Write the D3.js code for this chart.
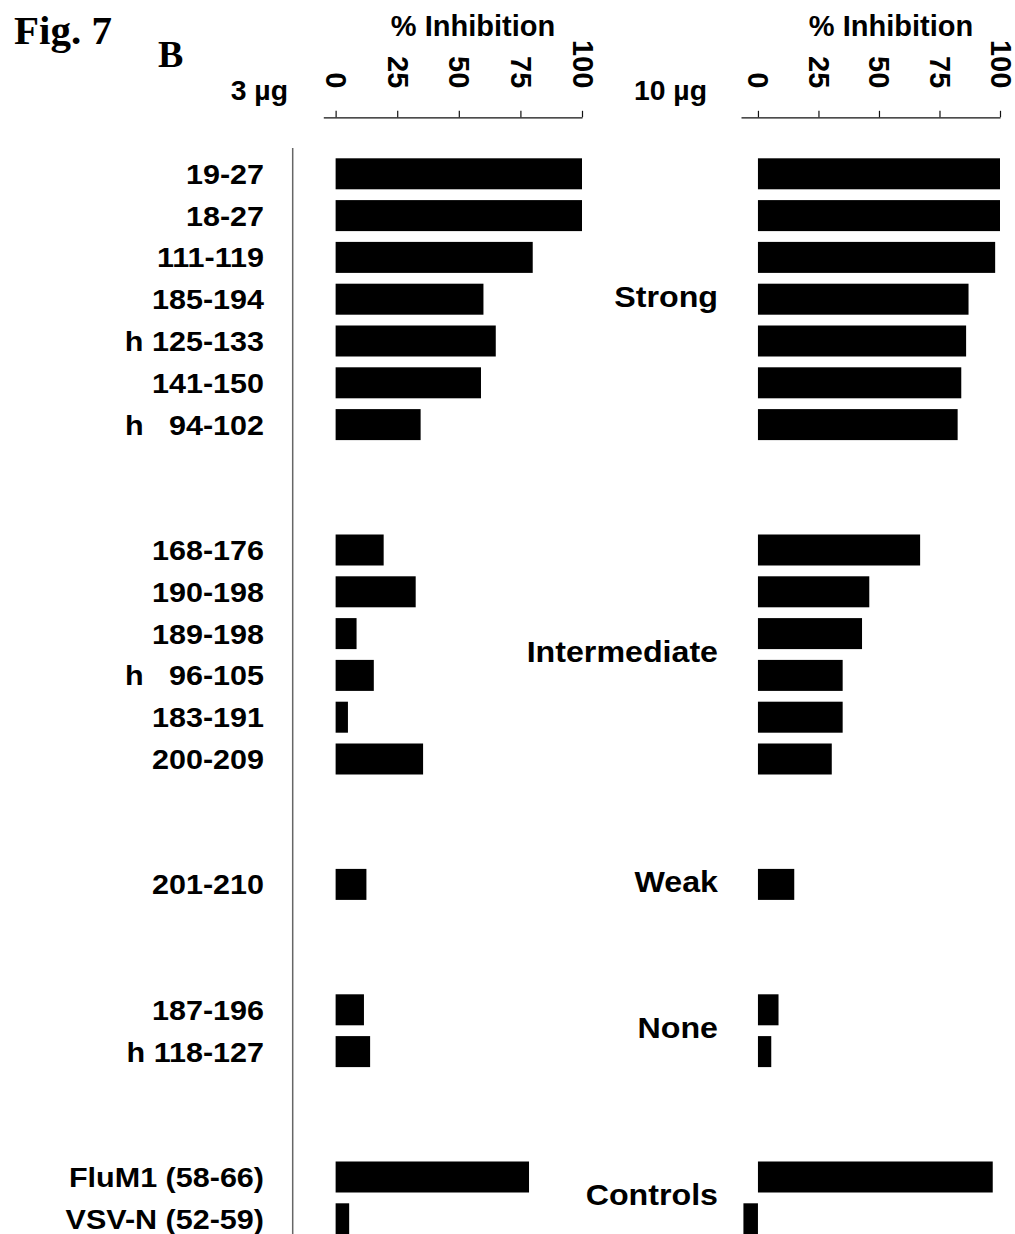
<!DOCTYPE html>
<html>
<head>
<meta charset="utf-8">
<script src="https://cdn.jsdelivr.net/npm/d3@7"></script>
<style>
  html, body { margin: 0; padding: 0; background: #fff; }
  svg { display: block; }
  text { font-family: "Liberation Sans", Arial, sans-serif; font-weight: bold; fill: #000; }
  .serif { font-family: "Liberation Serif", "Times New Roman", serif; }
</style>
</head>
<body>
<svg id="chart" width="1015" height="1234"></svg>
<script>
// Peptides (top to bottom), their response class, and % inhibition at each dose
const peptides = [
  "19-27", "18-27", "111-119", "185-194", "h 125-133", "141-150", "h   94-102",
  "168-176", "190-198", "189-198", "h   96-105", "183-191", "200-209",
  "201-210",
  "187-196", "h 118-127",
  "FluM1 (58-66)", "VSV-N (52-59)"
];
const peptideGroup = [
  "Strong", "Strong", "Strong", "Strong", "Strong", "Strong", "Strong",
  "Intermediate", "Intermediate", "Intermediate", "Intermediate", "Intermediate", "Intermediate",
  "Weak",
  "None", "None",
  "Controls", "Controls"
];
const groups = ["Strong", "Intermediate", "Weak", "None", "Controls"];
const inhibition3ug = [100, 100, 80, 60, 65, 59, 34.5, 19.5, 32.5, 8.5, 15.5, 5, 35.5, 12.5, 11.5, 14, 78.5, 5.5];
const inhibition10ug = [100, 100, 98, 87, 86, 84, 82.5, 67, 46, 43, 35, 35, 30.5, 15, 8.5, 5.5, 97, -6];
const tickValues = [0, 25, 50, 75, 100];
const doseLabels = ["3 µg", "10 µg"];

const svg = d3.select("#chart");

// Row slots: two empty slots separate consecutive classes
const slots = [];
groups.forEach((g, gi) => {
  if (gi > 0) { slots.push("gap" + gi + "a", "gap" + gi + "b"); }
  peptides.forEach((p, i) => { if (peptideGroup[i] === g) slots.push(p); });
});

const y = d3.scaleBand()
  .domain(slots)
  .range([158.3, 1234.3])
  .paddingInner(10.8 / 41.8)
  .paddingOuter(0);

const panels = [
  { values: inhibition3ug, dose: doseLabels[0],
    x: d3.scaleLinear().domain([-5, 100]).range([323.3, 582]),
    doseX: 288, titleX: 473 },
  { values: inhibition10ug, dose: doseLabels[1],
    x: d3.scaleLinear().domain([-7, 100]).range([741, 1000]),
    doseX: 707, titleX: 891 }
];

const axisY = 117.3;
const wide = 1.11; // horizontal widening of the row and class labels

panels.forEach(panel => {
  const x = panel.x;

  // top axis with rotated tick labels
  const axis = d3.axisTop(x).tickValues(tickValues).tickSizeInner(6.5).tickSizeOuter(0).tickPadding(0);
  const g = svg.append("g").attr("transform", `translate(0,${axisY})`).call(axis);
  g.select(".domain").attr("stroke", "#111").attr("stroke-width", 1.2);
  g.selectAll(".tick line").attr("stroke", "#111").attr("stroke-width", 1.2);
  g.selectAll(".tick text")
    .attr("x", 0).attr("y", 0).attr("dy", null)
    .attr("transform", "translate(0,-29) rotate(90)")
    .attr("text-anchor", "end")
    .attr("dominant-baseline", "central")
    .style("font-size", "29px")
    .style("font-family", "'Liberation Sans', Arial, sans-serif")
    .style("font-weight", "bold")
    .attr("fill", "#000");

  // axis title and dose label
  svg.append("text")
    .attr("x", panel.titleX).attr("y", 36)
    .attr("text-anchor", "middle")
    .style("font-size", "29px")
    .text("% Inhibition");
  svg.append("text")
    .attr("transform", `translate(${panel.doseX},100) scale(1.05,1)`)
    .attr("text-anchor", "end")
    .style("font-size", "27px")
    .text(panel.dose);

  // bars
  svg.append("g").selectAll("rect")
    .data(peptides.map((p, i) => ({ p, v: panel.values[i] })))
    .join("rect")
    .attr("x", d => Math.min(x(0), x(d.v)))
    .attr("width", d => Math.abs(x(d.v) - x(0)))
    .attr("y", d => y(d.p))
    .attr("height", y.bandwidth())
    .attr("fill", "#000");
});

// divider between peptide names and bars
svg.append("line")
  .attr("x1", 292.7).attr("x2", 292.7)
  .attr("y1", 148).attr("y2", 1234)
  .attr("stroke", "#666").attr("stroke-width", 1.5);

// peptide names
svg.append("g").selectAll("text")
  .data(peptides)
  .join("text")
  .attr("transform", d => `translate(264,${y(d) + y.bandwidth() / 2}) scale(${wide},1)`)
  .attr("dy", "0.36em")
  .attr("text-anchor", "end")
  .style("font-size", "27.5px")
  .style("white-space", "pre")
  .text(d => d);

// response class names, centred on their rows
svg.append("g").selectAll("text")
  .data(groups)
  .join("text")
  .attr("transform", g => {
    const cy = d3.mean(peptides.filter((p, i) => peptideGroup[i] === g), p => y(p) + y.bandwidth() / 2);
    return `translate(718,${cy - 3}) scale(${wide},1)`;
  })
  .attr("dy", "0.36em")
  .attr("text-anchor", "end")
  .style("font-size", "29px")
  .text(g => g);

// figure captions
svg.append("text").attr("class", "serif")
  .attr("x", 14).attr("y", 44)
  .style("font-size", "41px")
  .text("Fig. 7");
svg.append("text").attr("class", "serif")
  .attr("x", 158).attr("y", 66.7)
  .style("font-size", "38px")
  .text("B");
</script>
</body>
</html>
